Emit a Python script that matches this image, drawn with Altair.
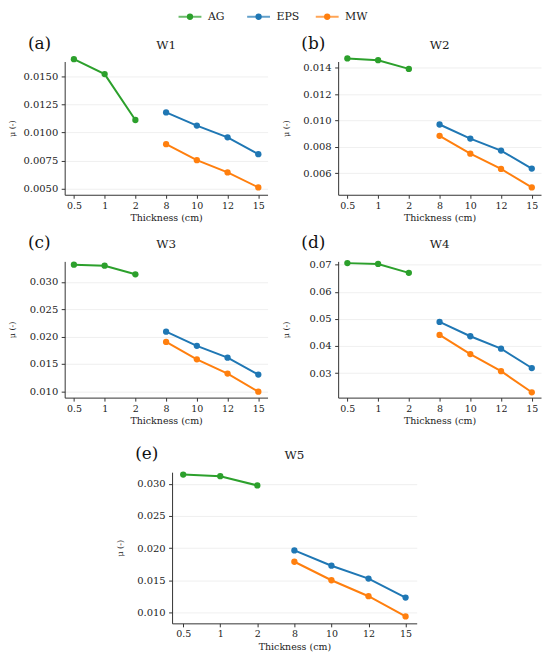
import altair as alt
import pandas as pd

panels = ["W1", "W2", "W3", "W4", "W5"]
letters = ["(a)", "(b)", "(c)", "(d)", "(e)"]
thickness = ["0.5", "1", "2", "8", "10", "12", "15"]
ag_thickness = ["0.5", "1", "2"]
ins_thickness = ["8", "10", "12", "15"]
materials = ["AG", "EPS", "MW"]
colors = ["#2ca02c", "#1f77b4", "#ff7f0e"]

ag_values = {
    "W1": [0.01658, 0.01524, 0.01113],
    "W2": [0.01471, 0.01458, 0.01392],
    "W3": [0.03314, 0.03296, 0.03139],
    "W4": [0.0706, 0.0703, 0.0670],
    "W5": [0.03144, 0.03118, 0.02974],
}
eps_values = {
    "W1": [0.01181, 0.01063, 0.00958, 0.00807],
    "W2": [0.00970, 0.00863, 0.00772, 0.00636],
    "W3": [0.02091, 0.01831, 0.01615, 0.01307],
    "W4": [0.04888, 0.0436, 0.0390, 0.03186],
    "W5": [0.01964, 0.01726, 0.01526, 0.01231],
}
mw_values = {
    "W1": [0.00896, 0.00753, 0.00643, 0.00509],
    "W2": [0.00884, 0.00749, 0.00633, 0.00493],
    "W3": [0.01903, 0.01585, 0.01325, 0.00994],
    "W4": [0.0441, 0.0370, 0.0307, 0.0229],
    "W5": [0.01788, 0.0150, 0.01252, 0.00938],
}
y_ticks = {
    "W1": [0.005, 0.0075, 0.01, 0.0125, 0.015],
    "W2": [0.006, 0.008, 0.010, 0.012, 0.014],
    "W3": [0.010, 0.015, 0.020, 0.025, 0.030],
    "W4": [0.03, 0.04, 0.05, 0.06, 0.07],
    "W5": [0.010, 0.015, 0.020, 0.025, 0.030],
}
y_domain = {
    "W1": [0.00443, 0.01637],
    "W2": [0.00437, 0.01448],
    "W3": [0.00885, 0.03375],
    "W4": [0.02093, 0.07124],
    "W5": [0.0083, 0.0318],
}
y_format = {"W1": ".4f", "W2": ".3f", "W3": ".3f", "W4": ".2f", "W5": ".3f"}

rows = []
for p in panels:
    for m, vals, thk in (("AG", ag_values[p], ag_thickness),
                         ("EPS", eps_values[p], ins_thickness),
                         ("MW", mw_values[p], ins_thickness)):
        for t, v in zip(thk, vals):
            rows.append({"panel": p, "material": m, "thickness": t,
                         "tnum": float(t), "value": v})
df = pd.DataFrame(rows)

FONT = "DejaVu Serif"
TXT = "#222222"
color_scale = alt.Scale(domain=materials, range=colors)


def panel(idx, width, height):
    name = panels[idx]
    sub = df[df.panel == name]
    x = alt.X("thickness:N", sort=thickness,
              scale=alt.Scale(type="point", padding=0.3),
              axis=alt.Axis(title="Thickness (cm)", labelAngle=0, grid=False))
    y = alt.Y("value:Q",
              scale=alt.Scale(domain=y_domain[name], zero=False, nice=False),
              axis=alt.Axis(title="μ (-)", values=y_ticks[name],
                            format=y_format[name], grid=True,
                            minExtent=43, maxExtent=43))
    color = alt.Color("material:N", scale=color_scale, legend=None)
    base = alt.Chart(sub).encode(x=x, y=y, color=color)
    lines = base.mark_line(strokeWidth=2).encode(order="tnum:Q")
    points = base.mark_circle(size=40, opacity=1)
    heads = pd.DataFrame({"label": [letters[idx]], "name": [name]})
    label = alt.Chart(heads).mark_text(
        align="left", baseline="alphabetic", font=FONT, fontSize=17, color="#111111"
    ).encode(text="label:N", x=alt.value(-37), y=alt.value(-13))
    title = alt.Chart(heads).mark_text(
        align="center", baseline="alphabetic", font=FONT, fontSize=12, color=TXT
    ).encode(text="name:N", x=alt.value(width / 2), y=alt.value(-13))
    return alt.layer(lines, points, label, title).properties(width=width, height=height)


# legend row (its origin lines up with the first panel's plot area)
leg_df = pd.DataFrame({"material": materials})
leg_x = alt.X("material:N", sort=materials,
              scale=alt.Scale(type="point", range=[126, 264], padding=0), axis=None)
leg_base = alt.Chart(leg_df).encode(
    x=leg_x, y=alt.value(6),
    color=alt.Color("material:N", scale=color_scale, legend=None))
leg_text = alt.Chart(leg_df).mark_text(
    align="left", baseline="middle", dx=18, font=FONT, fontSize=11, color=TXT
).encode(x=leg_x, y=alt.value(6), text="material:N")
legend = alt.layer(
    leg_base.mark_tick(orient="horizontal", size=23, thickness=2),
    leg_base.mark_circle(size=40, opacity=1),
    leg_text,
).properties(width=300, height=7)

spacer = alt.Chart(pd.DataFrame({"s": [""]})).mark_text().encode(
    text="s:N").properties(width=51, height=10)

row1 = alt.hconcat(panel(0, 204, 134), panel(1, 204, 134), spacing=13)
row2 = alt.hconcat(panel(2, 204, 137), panel(3, 204, 137), spacing=13)
row3 = alt.hconcat(spacer, panel(4, 246, 152), spacing=0)

mid = alt.concat(row1, row2, columns=1, align="none", spacing=11)
top = alt.concat(legend, mid, columns=1, align="none", spacing=11)
chart = alt.concat(top, row3, columns=1, align="none", spacing=19).properties(
    padding={"left": 0, "top": 0, "right": 0, "bottom": 0}
).configure_view(stroke="transparent").configure_axis(
    labelFont=FONT, titleFont=FONT, labelFontSize=10, titleFontSize=9.5,
    titleFontWeight="normal", labelColor=TXT, titleColor=TXT,
    domainColor="#333333", tickColor="#333333", tickSize=3.5,
    gridColor="#ebebeb", gridWidth=0.8,
).configure_axisX(labelPadding=2, titlePadding=3, labelFontSize=9.5).configure_axisY(
    titleFontSize=8, titlePadding=5, labelPadding=3.5)

chart.save("out.html", embed_options={"renderer": "svg", "actions": False})
